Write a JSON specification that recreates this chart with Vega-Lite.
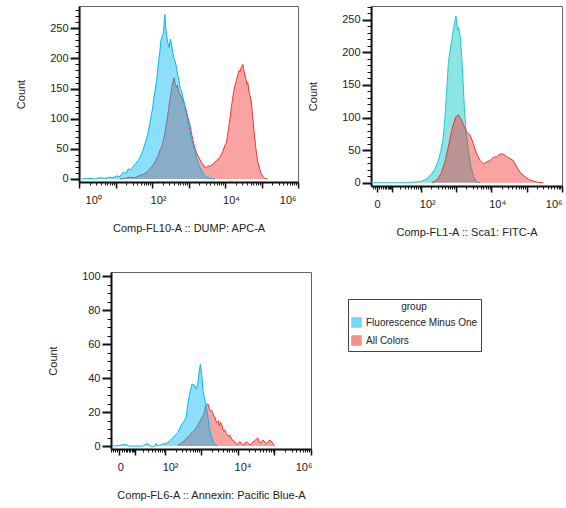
{
  "$schema": "https://vega.github.io/schema/vega-lite/v6.json",
  "padding": {"left": 15, "top": 5, "right": 5, "bottom": 5},
  "config": {
    "font": "Liberation Sans",
    "view": {"stroke": "#666", "strokeWidth": 1},
    "axis": {
      "labelFont": "Liberation Sans", "titleFont": "Liberation Sans",
      "labelFontSize": 11, "titleFontSize": 11, "titleFontWeight": "normal",
      "labelColor": "#222", "titleColor": "#222", "grid": false,
      "domainColor": "#111", "domainWidth": 2, "tickColor": "#111",
      "labelOverlap": false, "labelBound": false
    },
    "axisY": {"labelPadding": 2, "titlePadding": 23},
    "axisX": {"labelPadding": 6, "titlePadding": 17}
  },
  "datasets": {
    "p1": [
      {"group": "All Colors", "intensity": 13.2, "count": 0},
      {"group": "All Colors", "intensity": 18, "count": 1},
      {"group": "All Colors", "intensity": 24.7, "count": 3},
      {"group": "All Colors", "intensity": 33, "count": 2},
      {"group": "All Colors", "intensity": 46.4, "count": 6},
      {"group": "All Colors", "intensity": 58, "count": 8},
      {"group": "All Colors", "intensity": 70.8, "count": 11},
      {"group": "All Colors", "intensity": 84, "count": 16},
      {"group": "All Colors", "intensity": 96.9, "count": 20},
      {"group": "All Colors", "intensity": 108, "count": 24},
      {"group": "All Colors", "intensity": 119, "count": 28},
      {"group": "All Colors", "intensity": 132, "count": 33},
      {"group": "All Colors", "intensity": 147, "count": 39},
      {"group": "All Colors", "intensity": 163, "count": 47},
      {"group": "All Colors", "intensity": 182, "count": 53},
      {"group": "All Colors", "intensity": 200, "count": 62},
      {"group": "All Colors", "intensity": 224, "count": 75},
      {"group": "All Colors", "intensity": 244, "count": 90},
      {"group": "All Colors", "intensity": 265, "count": 102},
      {"group": "All Colors", "intensity": 285, "count": 118},
      {"group": "All Colors", "intensity": 306, "count": 130},
      {"group": "All Colors", "intensity": 326, "count": 140},
      {"group": "All Colors", "intensity": 347, "count": 152},
      {"group": "All Colors", "intensity": 372, "count": 160},
      {"group": "All Colors", "intensity": 402, "count": 168},
      {"group": "All Colors", "intensity": 430, "count": 158},
      {"group": "All Colors", "intensity": 467, "count": 152},
      {"group": "All Colors", "intensity": 490, "count": 156},
      {"group": "All Colors", "intensity": 516, "count": 150},
      {"group": "All Colors", "intensity": 545, "count": 144},
      {"group": "All Colors", "intensity": 575, "count": 141},
      {"group": "All Colors", "intensity": 640, "count": 136},
      {"group": "All Colors", "intensity": 708, "count": 130},
      {"group": "All Colors", "intensity": 790, "count": 122},
      {"group": "All Colors", "intensity": 877, "count": 113},
      {"group": "All Colors", "intensity": 980, "count": 100},
      {"group": "All Colors", "intensity": 1079, "count": 91},
      {"group": "All Colors", "intensity": 1200, "count": 76},
      {"group": "All Colors", "intensity": 1327, "count": 64},
      {"group": "All Colors", "intensity": 1480, "count": 52},
      {"group": "All Colors", "intensity": 1644, "count": 44},
      {"group": "All Colors", "intensity": 1820, "count": 38},
      {"group": "All Colors", "intensity": 2023, "count": 33},
      {"group": "All Colors", "intensity": 2250, "count": 28},
      {"group": "All Colors", "intensity": 2489, "count": 24},
      {"group": "All Colors", "intensity": 2780, "count": 20},
      {"group": "All Colors", "intensity": 3083, "count": 19},
      {"group": "All Colors", "intensity": 3400, "count": 22},
      {"group": "All Colors", "intensity": 3795, "count": 21},
      {"group": "All Colors", "intensity": 4200, "count": 23},
      {"group": "All Colors", "intensity": 4667, "count": 24},
      {"group": "All Colors", "intensity": 5200, "count": 28},
      {"group": "All Colors", "intensity": 5781, "count": 30},
      {"group": "All Colors", "intensity": 6400, "count": 33},
      {"group": "All Colors", "intensity": 7112, "count": 35},
      {"group": "All Colors", "intensity": 7900, "count": 41},
      {"group": "All Colors", "intensity": 8770, "count": 46},
      {"group": "All Colors", "intensity": 9800, "count": 55},
      {"group": "All Colors", "intensity": 10860, "count": 60},
      {"group": "All Colors", "intensity": 11800, "count": 74},
      {"group": "All Colors", "intensity": 12790, "count": 88},
      {"group": "All Colors", "intensity": 13800, "count": 102},
      {"group": "All Colors", "intensity": 14870, "count": 119},
      {"group": "All Colors", "intensity": 16000, "count": 132},
      {"group": "All Colors", "intensity": 17180, "count": 145},
      {"group": "All Colors", "intensity": 18700, "count": 155},
      {"group": "All Colors", "intensity": 20370, "count": 163},
      {"group": "All Colors", "intensity": 22100, "count": 172},
      {"group": "All Colors", "intensity": 23990, "count": 180},
      {"group": "All Colors", "intensity": 25800, "count": 178},
      {"group": "All Colors", "intensity": 27860, "count": 186},
      {"group": "All Colors", "intensity": 30830, "count": 190},
      {"group": "All Colors", "intensity": 32500, "count": 182},
      {"group": "All Colors", "intensity": 34360, "count": 174},
      {"group": "All Colors", "intensity": 36800, "count": 168},
      {"group": "All Colors", "intensity": 39630, "count": 157},
      {"group": "All Colors", "intensity": 42200, "count": 160},
      {"group": "All Colors", "intensity": 44980, "count": 145},
      {"group": "All Colors", "intensity": 48500, "count": 138},
      {"group": "All Colors", "intensity": 52360, "count": 128},
      {"group": "All Colors", "intensity": 57810, "count": 100},
      {"group": "All Colors", "intensity": 62500, "count": 78},
      {"group": "All Colors", "intensity": 68550, "count": 55},
      {"group": "All Colors", "intensity": 73500, "count": 40},
      {"group": "All Colors", "intensity": 79250, "count": 28},
      {"group": "All Colors", "intensity": 88000, "count": 17},
      {"group": "All Colors", "intensity": 98170, "count": 9},
      {"group": "All Colors", "intensity": 110000, "count": 4},
      {"group": "All Colors", "intensity": 120800, "count": 1},
      {"group": "All Colors", "intensity": 145900, "count": 0},
      {"group": "Fluorescence Minus One", "intensity": 1.19, "count": 0},
      {"group": "Fluorescence Minus One", "intensity": 1.6, "count": 1},
      {"group": "Fluorescence Minus One", "intensity": 2.0, "count": 1},
      {"group": "Fluorescence Minus One", "intensity": 2.8, "count": 0},
      {"group": "Fluorescence Minus One", "intensity": 3.75, "count": 2},
      {"group": "Fluorescence Minus One", "intensity": 5.0, "count": 1},
      {"group": "Fluorescence Minus One", "intensity": 7.03, "count": 3},
      {"group": "Fluorescence Minus One", "intensity": 8.5, "count": 2},
      {"group": "Fluorescence Minus One", "intensity": 10.7, "count": 5},
      {"group": "Fluorescence Minus One", "intensity": 13, "count": 4},
      {"group": "Fluorescence Minus One", "intensity": 16.2, "count": 11},
      {"group": "Fluorescence Minus One", "intensity": 19, "count": 9},
      {"group": "Fluorescence Minus One", "intensity": 22.2, "count": 17},
      {"group": "Fluorescence Minus One", "intensity": 26, "count": 15},
      {"group": "Fluorescence Minus One", "intensity": 30.5, "count": 21},
      {"group": "Fluorescence Minus One", "intensity": 36, "count": 26},
      {"group": "Fluorescence Minus One", "intensity": 41.7, "count": 31},
      {"group": "Fluorescence Minus One", "intensity": 46, "count": 35},
      {"group": "Fluorescence Minus One", "intensity": 51.7, "count": 42},
      {"group": "Fluorescence Minus One", "intensity": 57, "count": 49},
      {"group": "Fluorescence Minus One", "intensity": 63.6, "count": 58},
      {"group": "Fluorescence Minus One", "intensity": 70, "count": 66},
      {"group": "Fluorescence Minus One", "intensity": 78.2, "count": 77},
      {"group": "Fluorescence Minus One", "intensity": 87, "count": 92},
      {"group": "Fluorescence Minus One", "intensity": 96.9, "count": 108},
      {"group": "Fluorescence Minus One", "intensity": 104, "count": 118},
      {"group": "Fluorescence Minus One", "intensity": 112, "count": 135},
      {"group": "Fluorescence Minus One", "intensity": 122, "count": 148},
      {"group": "Fluorescence Minus One", "intensity": 133, "count": 163},
      {"group": "Fluorescence Minus One", "intensity": 144, "count": 184},
      {"group": "Fluorescence Minus One", "intensity": 156, "count": 202},
      {"group": "Fluorescence Minus One", "intensity": 165, "count": 214},
      {"group": "Fluorescence Minus One", "intensity": 174, "count": 229},
      {"group": "Fluorescence Minus One", "intensity": 187, "count": 236},
      {"group": "Fluorescence Minus One", "intensity": 201, "count": 240},
      {"group": "Fluorescence Minus One", "intensity": 212, "count": 255},
      {"group": "Fluorescence Minus One", "intensity": 224, "count": 273},
      {"group": "Fluorescence Minus One", "intensity": 236, "count": 252},
      {"group": "Fluorescence Minus One", "intensity": 249, "count": 240},
      {"group": "Fluorescence Minus One", "intensity": 270, "count": 226},
      {"group": "Fluorescence Minus One", "intensity": 293, "count": 218},
      {"group": "Fluorescence Minus One", "intensity": 316, "count": 232},
      {"group": "Fluorescence Minus One", "intensity": 341, "count": 224},
      {"group": "Fluorescence Minus One", "intensity": 366, "count": 210},
      {"group": "Fluorescence Minus One", "intensity": 394, "count": 202},
      {"group": "Fluorescence Minus One", "intensity": 430, "count": 195},
      {"group": "Fluorescence Minus One", "intensity": 467, "count": 185},
      {"group": "Fluorescence Minus One", "intensity": 505, "count": 172},
      {"group": "Fluorescence Minus One", "intensity": 550, "count": 163},
      {"group": "Fluorescence Minus One", "intensity": 590, "count": 150},
      {"group": "Fluorescence Minus One", "intensity": 640, "count": 147},
      {"group": "Fluorescence Minus One", "intensity": 690, "count": 136},
      {"group": "Fluorescence Minus One", "intensity": 740, "count": 130},
      {"group": "Fluorescence Minus One", "intensity": 810, "count": 115},
      {"group": "Fluorescence Minus One", "intensity": 877, "count": 108},
      {"group": "Fluorescence Minus One", "intensity": 970, "count": 95},
      {"group": "Fluorescence Minus One", "intensity": 1079, "count": 80},
      {"group": "Fluorescence Minus One", "intensity": 1200, "count": 68},
      {"group": "Fluorescence Minus One", "intensity": 1327, "count": 58},
      {"group": "Fluorescence Minus One", "intensity": 1480, "count": 46},
      {"group": "Fluorescence Minus One", "intensity": 1644, "count": 36},
      {"group": "Fluorescence Minus One", "intensity": 1820, "count": 27},
      {"group": "Fluorescence Minus One", "intensity": 2023, "count": 20},
      {"group": "Fluorescence Minus One", "intensity": 2400, "count": 11},
      {"group": "Fluorescence Minus One", "intensity": 2773, "count": 6},
      {"group": "Fluorescence Minus One", "intensity": 3200, "count": 3},
      {"group": "Fluorescence Minus One", "intensity": 3795, "count": 1},
      {"group": "Fluorescence Minus One", "intensity": 4500, "count": 1},
      {"group": "Fluorescence Minus One", "intensity": 5200, "count": 0}
    ],
    "p2": [
      {"group": "Fluorescence Minus One", "intensity": -2.8, "count": 1},
      {"group": "Fluorescence Minus One", "intensity": -1.5, "count": 0},
      {"group": "Fluorescence Minus One", "intensity": 30.8, "count": 0},
      {"group": "Fluorescence Minus One", "intensity": 39.6, "count": 0.5},
      {"group": "Fluorescence Minus One", "intensity": 64.5, "count": 1},
      {"group": "Fluorescence Minus One", "intensity": 103, "count": 2},
      {"group": "Fluorescence Minus One", "intensity": 145, "count": 6},
      {"group": "Fluorescence Minus One", "intensity": 203, "count": 14},
      {"group": "Fluorescence Minus One", "intensity": 253, "count": 21},
      {"group": "Fluorescence Minus One", "intensity": 315, "count": 34},
      {"group": "Fluorescence Minus One", "intensity": 376, "count": 50},
      {"group": "Fluorescence Minus One", "intensity": 438, "count": 70},
      {"group": "Fluorescence Minus One", "intensity": 490, "count": 101},
      {"group": "Fluorescence Minus One", "intensity": 548, "count": 142},
      {"group": "Fluorescence Minus One", "intensity": 609, "count": 183},
      {"group": "Fluorescence Minus One", "intensity": 681, "count": 203},
      {"group": "Fluorescence Minus One", "intensity": 760, "count": 218},
      {"group": "Fluorescence Minus One", "intensity": 845, "count": 234},
      {"group": "Fluorescence Minus One", "intensity": 945, "count": 249},
      {"group": "Fluorescence Minus One", "intensity": 1000, "count": 256},
      {"group": "Fluorescence Minus One", "intensity": 1040, "count": 250},
      {"group": "Fluorescence Minus One", "intensity": 1080, "count": 238},
      {"group": "Fluorescence Minus One", "intensity": 1127, "count": 234},
      {"group": "Fluorescence Minus One", "intensity": 1180, "count": 239},
      {"group": "Fluorescence Minus One", "intensity": 1227, "count": 236},
      {"group": "Fluorescence Minus One", "intensity": 1336, "count": 223},
      {"group": "Fluorescence Minus One", "intensity": 1463, "count": 193},
      {"group": "Fluorescence Minus One", "intensity": 1593, "count": 157},
      {"group": "Fluorescence Minus One", "intensity": 1734, "count": 116},
      {"group": "Fluorescence Minus One", "intensity": 1937, "count": 80},
      {"group": "Fluorescence Minus One", "intensity": 2250, "count": 50},
      {"group": "Fluorescence Minus One", "intensity": 2682, "count": 24},
      {"group": "Fluorescence Minus One", "intensity": 3199, "count": 9},
      {"group": "Fluorescence Minus One", "intensity": 3889, "count": 1},
      {"group": "Fluorescence Minus One", "intensity": 4824, "count": 0},
      {"group": "All Colors", "intensity": 203, "count": 0},
      {"group": "All Colors", "intensity": 283, "count": 4},
      {"group": "All Colors", "intensity": 376, "count": 14},
      {"group": "All Colors", "intensity": 490, "count": 32},
      {"group": "All Colors", "intensity": 609, "count": 55},
      {"group": "All Colors", "intensity": 727, "count": 75},
      {"group": "All Colors", "intensity": 845, "count": 90},
      {"group": "All Colors", "intensity": 989, "count": 101},
      {"group": "All Colors", "intensity": 1172, "count": 104},
      {"group": "All Colors", "intensity": 1398, "count": 98},
      {"group": "All Colors", "intensity": 1667, "count": 88},
      {"group": "All Colors", "intensity": 2028, "count": 78},
      {"group": "All Colors", "intensity": 2513, "count": 73},
      {"group": "All Colors", "intensity": 3117, "count": 60},
      {"group": "All Colors", "intensity": 3889, "count": 44},
      {"group": "All Colors", "intensity": 4824, "count": 34},
      {"group": "All Colors", "intensity": 5980, "count": 29},
      {"group": "All Colors", "intensity": 7460, "count": 32},
      {"group": "All Colors", "intensity": 9250, "count": 34},
      {"group": "All Colors", "intensity": 11460, "count": 39},
      {"group": "All Colors", "intensity": 14300, "count": 40},
      {"group": "All Colors", "intensity": 17730, "count": 44},
      {"group": "All Colors", "intensity": 21960, "count": 44},
      {"group": "All Colors", "intensity": 27420, "count": 40},
      {"group": "All Colors", "intensity": 33970, "count": 37},
      {"group": "All Colors", "intensity": 42120, "count": 34},
      {"group": "All Colors", "intensity": 52530, "count": 24},
      {"group": "All Colors", "intensity": 65100, "count": 16},
      {"group": "All Colors", "intensity": 90060, "count": 9},
      {"group": "All Colors", "intensity": 124700, "count": 4},
      {"group": "All Colors", "intensity": 192800, "count": 1},
      {"group": "All Colors", "intensity": 296000, "count": 0}
    ],
    "p3": [
      {"group": "All Colors", "intensity": 228, "count": 0.4},
      {"group": "All Colors", "intensity": 290, "count": 2},
      {"group": "All Colors", "intensity": 348, "count": 3},
      {"group": "All Colors", "intensity": 410, "count": 5},
      {"group": "All Colors", "intensity": 478, "count": 6},
      {"group": "All Colors", "intensity": 560, "count": 8},
      {"group": "All Colors", "intensity": 657, "count": 9},
      {"group": "All Colors", "intensity": 750, "count": 11},
      {"group": "All Colors", "intensity": 846, "count": 12.8},
      {"group": "All Colors", "intensity": 950, "count": 15},
      {"group": "All Colors", "intensity": 1049, "count": 16.8},
      {"group": "All Colors", "intensity": 1140, "count": 18},
      {"group": "All Colors", "intensity": 1236, "count": 19.7},
      {"group": "All Colors", "intensity": 1320, "count": 23},
      {"group": "All Colors", "intensity": 1402, "count": 23.7},
      {"group": "All Colors", "intensity": 1500, "count": 25},
      {"group": "All Colors", "intensity": 1589, "count": 24.6},
      {"group": "All Colors", "intensity": 1700, "count": 22},
      {"group": "All Colors", "intensity": 1803, "count": 20.7},
      {"group": "All Colors", "intensity": 1950, "count": 21},
      {"group": "All Colors", "intensity": 2097, "count": 19.7},
      {"group": "All Colors", "intensity": 2250, "count": 18},
      {"group": "All Colors", "intensity": 2423, "count": 16.8},
      {"group": "All Colors", "intensity": 2650, "count": 14},
      {"group": "All Colors", "intensity": 2871, "count": 13.8},
      {"group": "All Colors", "intensity": 3000, "count": 15},
      {"group": "All Colors", "intensity": 3177, "count": 11.8},
      {"group": "All Colors", "intensity": 3400, "count": 14},
      {"group": "All Colors", "intensity": 3692, "count": 12.8},
      {"group": "All Colors", "intensity": 3950, "count": 10},
      {"group": "All Colors", "intensity": 4189, "count": 8.9},
      {"group": "All Colors", "intensity": 4500, "count": 9.5},
      {"group": "All Colors", "intensity": 4840, "count": 7.9},
      {"group": "All Colors", "intensity": 5200, "count": 7},
      {"group": "All Colors", "intensity": 5590, "count": 5.9},
      {"group": "All Colors", "intensity": 6100, "count": 6.5},
      {"group": "All Colors", "intensity": 6624, "count": 4.9},
      {"group": "All Colors", "intensity": 7300, "count": 3.5},
      {"group": "All Colors", "intensity": 8155, "count": 3},
      {"group": "All Colors", "intensity": 9000, "count": 1.5},
      {"group": "All Colors", "intensity": 10090, "count": 1},
      {"group": "All Colors", "intensity": 11200, "count": 2.5},
      {"group": "All Colors", "intensity": 12410, "count": 2},
      {"group": "All Colors", "intensity": 13800, "count": 1},
      {"group": "All Colors", "intensity": 15270, "count": 1},
      {"group": "All Colors", "intensity": 17000, "count": 2.5},
      {"group": "All Colors", "intensity": 18900, "count": 2},
      {"group": "All Colors", "intensity": 21000, "count": 1},
      {"group": "All Colors", "intensity": 23240, "count": 1},
      {"group": "All Colors", "intensity": 26000, "count": 2.5},
      {"group": "All Colors", "intensity": 28590, "count": 3},
      {"group": "All Colors", "intensity": 32000, "count": 4},
      {"group": "All Colors", "intensity": 35400, "count": 4.9},
      {"group": "All Colors", "intensity": 39000, "count": 2.5},
      {"group": "All Colors", "intensity": 43560, "count": 2},
      {"group": "All Colors", "intensity": 48500, "count": 3.5},
      {"group": "All Colors", "intensity": 53580, "count": 3},
      {"group": "All Colors", "intensity": 59000, "count": 1.5},
      {"group": "All Colors", "intensity": 66300, "count": 2},
      {"group": "All Colors", "intensity": 73000, "count": 3.5},
      {"group": "All Colors", "intensity": 81540, "count": 3},
      {"group": "All Colors", "intensity": 89000, "count": 2},
      {"group": "All Colors", "intensity": 96600, "count": 1},
      {"group": "All Colors", "intensity": 100300, "count": 0},
      {"group": "Fluorescence Minus One", "intensity": -3.5, "count": 1},
      {"group": "Fluorescence Minus One", "intensity": -2, "count": 0},
      {"group": "Fluorescence Minus One", "intensity": 3, "count": 1},
      {"group": "Fluorescence Minus One", "intensity": 5, "count": 0},
      {"group": "Fluorescence Minus One", "intensity": 20, "count": 0},
      {"group": "Fluorescence Minus One", "intensity": 30, "count": 1.5},
      {"group": "Fluorescence Minus One", "intensity": 35, "count": 0},
      {"group": "Fluorescence Minus One", "intensity": 50, "count": 0},
      {"group": "Fluorescence Minus One", "intensity": 54, "count": 1.5},
      {"group": "Fluorescence Minus One", "intensity": 60, "count": 0},
      {"group": "Fluorescence Minus One", "intensity": 80, "count": 1},
      {"group": "Fluorescence Minus One", "intensity": 93, "count": 1.5},
      {"group": "Fluorescence Minus One", "intensity": 106, "count": 1.4},
      {"group": "Fluorescence Minus One", "intensity": 132, "count": 2.9},
      {"group": "Fluorescence Minus One", "intensity": 165, "count": 4.9},
      {"group": "Fluorescence Minus One", "intensity": 204, "count": 6.9},
      {"group": "Fluorescence Minus One", "intensity": 230, "count": 8},
      {"group": "Fluorescence Minus One", "intensity": 253, "count": 9.9},
      {"group": "Fluorescence Minus One", "intensity": 280, "count": 12},
      {"group": "Fluorescence Minus One", "intensity": 314, "count": 13.8},
      {"group": "Fluorescence Minus One", "intensity": 350, "count": 15},
      {"group": "Fluorescence Minus One", "intensity": 388, "count": 16.8},
      {"group": "Fluorescence Minus One", "intensity": 420, "count": 22},
      {"group": "Fluorescence Minus One", "intensity": 449, "count": 26.6},
      {"group": "Fluorescence Minus One", "intensity": 510, "count": 32.5},
      {"group": "Fluorescence Minus One", "intensity": 568, "count": 36.5},
      {"group": "Fluorescence Minus One", "intensity": 657, "count": 36},
      {"group": "Fluorescence Minus One", "intensity": 732, "count": 33.5},
      {"group": "Fluorescence Minus One", "intensity": 815, "count": 36.5},
      {"group": "Fluorescence Minus One", "intensity": 901, "count": 44.4},
      {"group": "Fluorescence Minus One", "intensity": 961, "count": 48},
      {"group": "Fluorescence Minus One", "intensity": 1049, "count": 42.4},
      {"group": "Fluorescence Minus One", "intensity": 1139, "count": 32.5},
      {"group": "Fluorescence Minus One", "intensity": 1291, "count": 26.6},
      {"group": "Fluorescence Minus One", "intensity": 1465, "count": 20.7},
      {"group": "Fluorescence Minus One", "intensity": 1693, "count": 10.8},
      {"group": "Fluorescence Minus One", "intensity": 1970, "count": 4.9},
      {"group": "Fluorescence Minus One", "intensity": 2318, "count": 1.4},
      {"group": "Fluorescence Minus One", "intensity": 2871, "count": 0}
    ]
  },
  "center": true,
  "spacing": 31,
  "vconcat": [
    {
      "spacing": 4,
      "resolve": {"scale": {"color": "independent"}, "legend": {"color": "independent"}},
      "hconcat": [
        {
          "width": 219, "height": 176,
          "data": {"name": "p1"},
          "encoding": {
            "x": {"field": "intensity", "type": "quantitative", "title": "Comp-FL10-A :: DUMP: APC-A",
              "scale": {"type": "log", "domain": [1, 1000000], "nice": false},
              "axis": {
                "values": [1,2,3,4,5,6,7,8,9,10,20,30,40,50,60,70,80,90,100,200,300,400,500,600,700,800,900,1000,2000,3000,4000,5000,6000,7000,8000,9000,10000,20000,30000,40000,50000,60000,70000,80000,90000,100000,200000,300000,400000,500000,600000,700000,800000,900000,1000000],
                "labelExpr": "datum.value == 1 ? '10⁰' : datum.value == 100 ? '10²' : datum.value == 10000 ? '10⁴' : datum.value == 1000000 ? '10⁶' : ''",
                "labelFlush": true,
                "labelOffset": {"condition": {"test": "datum.value == 1000000", "value": -2}, "value": 6},
                "tickSize": {"condition": {"test": "datum.value == 1 || datum.value == 10 || datum.value == 100 || datum.value == 1000 || datum.value == 10000 || datum.value == 100000 || datum.value == 1000000", "value": 6}, "value": 3},
                "tickWidth": {"condition": {"test": "datum.value == 1 || datum.value == 10 || datum.value == 100 || datum.value == 1000 || datum.value == 10000 || datum.value == 100000 || datum.value == 1000000", "value": 1.5}, "value": 1}
              }},
            "y": {"field": "count", "type": "quantitative", "title": "Count", "stack": null,
              "scale": {"domain": [-5, 287], "nice": false, "zero": false},
              "axis": {
                "values": [0,10,20,30,40,50,60,70,80,90,100,110,120,130,140,150,160,170,180,190,200,210,220,230,240,250,260,270,280],
                "labelExpr": "datum.value % 50 == 0 ? datum.label : ''",
                "labelFontSize": {"condition": {"test": "datum.value % 50 == 0", "value": 11}, "value": 1},
                "tickSize": {"condition": {"test": "datum.value % 50 == 0", "value": 9}, "value": 4},
                "tickWidth": {"condition": {"test": "datum.value % 50 == 0", "value": 2}, "value": 1}
              }},
            "color": {"field": "group", "type": "nominal", "legend": null,
              "scale": {"domain": ["Fluorescence Minus One", "All Colors"], "range": ["#00B8F5", "#F23434"]}}
          },
          "layer": [
            {"transform": [{"filter": "datum.group == 'All Colors'"}],
             "mark": {"type": "area", "fillOpacity": 0.45, "line": {"strokeWidth": 1}}},
            {"transform": [{"filter": "datum.group == 'Fluorescence Minus One'"}],
             "mark": {"type": "area", "fillOpacity": 0.45, "line": {"strokeWidth": 1}}}
          ]
        },
        {
          "width": 191, "height": 180,
          "data": {"name": "p2"},
          "encoding": {
            "x": {"field": "intensity", "type": "quantitative", "title": "Comp-FL1-A :: Sca1: FITC-A",
              "scale": {"type": "symlog", "constant": 6, "domain": [-2.9, 1000000], "nice": false, "zero": false},
              "axis": {
                "values": [-2,-1,0,1,2,3,4,5,6,7,8,9,10,20,30,40,50,60,70,80,90,100,200,300,400,500,600,700,800,900,1000,2000,3000,4000,5000,6000,7000,8000,9000,10000,20000,30000,40000,50000,60000,70000,80000,90000,100000,200000,300000,400000,500000,600000,700000,800000,900000,1000000],
                "labelExpr": "datum.value == 0 ? '0' : datum.value == 100 ? '10²' : datum.value == 10000 ? '10⁴' : datum.value == 1000000 ? '10⁶' : ''",
                "labelFlush": true,
                "labelOffset": {"condition": {"test": "datum.value == 1000000 || datum.value == 0", "value": 0}, "value": 6},
                "tickSize": {"condition": {"test": "datum.value == 0 || datum.value == 10 || datum.value == 100 || datum.value == 1000 || datum.value == 10000 || datum.value == 100000 || datum.value == 1000000", "value": 6}, "value": 3},
                "tickWidth": {"condition": {"test": "datum.value == 0 || datum.value == 10 || datum.value == 100 || datum.value == 1000 || datum.value == 10000 || datum.value == 100000 || datum.value == 1000000", "value": 1.5}, "value": 1}
              }},
            "y": {"field": "count", "type": "quantitative", "title": "Count", "stack": null,
              "scale": {"domain": [-5, 271], "nice": false, "zero": false},
              "axis": {
                "values": [0,10,20,30,40,50,60,70,80,90,100,110,120,130,140,150,160,170,180,190,200,210,220,230,240,250,260,270],
                "labelExpr": "datum.value % 50 == 0 ? datum.label : ''",
                "labelFontSize": {"condition": {"test": "datum.value % 50 == 0", "value": 11}, "value": 1},
                "tickSize": {"condition": {"test": "datum.value % 50 == 0", "value": 9}, "value": 4},
                "tickWidth": {"condition": {"test": "datum.value % 50 == 0", "value": 2}, "value": 1}
              }},
            "color": {"field": "group", "type": "nominal", "legend": null,
              "scale": {"domain": ["Fluorescence Minus One", "All Colors"], "range": ["#1CCACA", "#F23434"]}}
          },
          "layer": [
            {"transform": [{"filter": "datum.group == 'Fluorescence Minus One'"}],
             "mark": {"type": "area", "fillOpacity": 0.5, "line": {"strokeWidth": 1}}},
            {"transform": [{"filter": "datum.group == 'All Colors'"}],
             "mark": {"type": "area", "fillOpacity": 0.45, "line": {"strokeWidth": 1}}}
          ]
        }
      ]
    },
    {
      "spacing": 0,
      "resolve": {"scale": {"color": "independent"}, "legend": {"color": "independent"}},
      "hconcat": [
        {
          "width": 200, "height": 177,
          "data": {"name": "p3"},
          "encoding": {
            "x": {"field": "intensity", "type": "quantitative", "title": "Comp-FL6-A :: Annexin: Pacific Blue-A",
              "scale": {"type": "symlog", "constant": 6, "domain": [-4.1, 1000000], "nice": false, "zero": false},
              "axis": {
                "values": [-4,-3,-2,-1,0,1,2,3,4,5,6,7,8,9,10,20,30,40,50,60,70,80,90,100,200,300,400,500,600,700,800,900,1000,2000,3000,4000,5000,6000,7000,8000,9000,10000,20000,30000,40000,50000,60000,70000,80000,90000,100000,200000,300000,400000,500000,600000,700000,800000,900000,1000000],
                "labelExpr": "datum.value == 0 ? '0' : datum.value == 100 ? '10²' : datum.value == 10000 ? '10⁴' : datum.value == 1000000 ? '10⁶' : ''",
                "labelFlush": true,
                "labelOffset": {"condition": {"test": "datum.value == 1000000 || datum.value == 0", "value": 1}, "value": 5},
                "tickSize": {"condition": {"test": "datum.value == 0 || datum.value == 10 || datum.value == 100 || datum.value == 1000 || datum.value == 10000 || datum.value == 100000 || datum.value == 1000000", "value": 6}, "value": 3},
                "tickWidth": {"condition": {"test": "datum.value == 0 || datum.value == 10 || datum.value == 100 || datum.value == 1000 || datum.value == 10000 || datum.value == 100000 || datum.value == 1000000", "value": 1.5}, "value": 1}
              }},
            "y": {"field": "count", "type": "quantitative", "title": "Count", "stack": null,
              "scale": {"domain": [-1.7, 102.5], "nice": false, "zero": false},
              "axis": {
                "values": [0,5,10,15,20,25,30,35,40,45,50,55,60,65,70,75,80,85,90,95,100],
                "labelExpr": "datum.value % 20 == 0 ? datum.label : ''",
                "labelFontSize": {"condition": {"test": "datum.value % 20 == 0", "value": 11}, "value": 1},
                "tickSize": {"condition": {"test": "datum.value % 20 == 0", "value": 9}, "value": 4},
                "tickWidth": {"condition": {"test": "datum.value % 20 == 0", "value": 2}, "value": 1}
              }},
            "color": {"field": "group", "type": "nominal",
              "scale": {"domain": ["Fluorescence Minus One", "All Colors"], "range": ["#00B8F5", "#F23434"]},
              "legend": {"title": "group", "orient": "none", "legendX": 237, "legendY": 27,
                "symbolType": "square", "symbolSize": 90, "symbolStrokeWidth": 1, "symbolOpacity": 0.55,
                "labelFont": "Liberation Sans", "labelFontSize": 10, "labelColor": "#222",
                "titleFont": "Liberation Sans", "titleFontSize": 10, "titleFontWeight": "normal", "titleColor": "#222",
                "titleAnchor": "middle", "strokeColor": "#444", "fillColor": "white", "padding": 3, "rowPadding": 3}}
          },
          "layer": [
            {"transform": [{"filter": "datum.group == 'All Colors'"}],
             "mark": {"type": "area", "fillOpacity": 0.45, "line": {"strokeWidth": 1}}},
            {"transform": [{"filter": "datum.group == 'Fluorescence Minus One'"}],
             "mark": {"type": "area", "fillOpacity": 0.45, "line": {"strokeWidth": 1}}}
          ]
        },
        {
          "width": 53, "height": 10,
          "data": {"values": [{"spacer": 1}]},
          "mark": {"type": "point", "opacity": 0},
          "encoding": {},
          "view": {"stroke": null}
        }
      ]
    }
  ],
  "resolve": {"scale": {"color": "independent"}, "legend": {"color": "independent"}}
}
